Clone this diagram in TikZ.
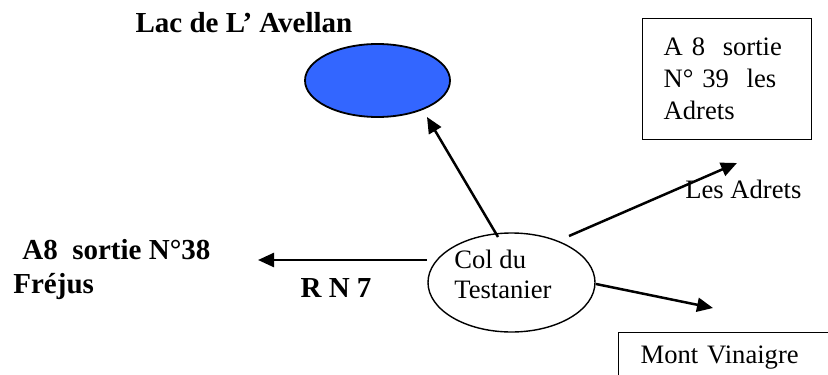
\documentclass[tikz,border=0pt]{standalone}
\usepackage{fontspec}
\setmainfont{Liberation Serif}
\usetikzlibrary{arrows.meta,shapes.geometric}
\definecolor{lakeblue}{RGB}{51,102,255}
\begin{document}
\begin{tikzpicture}[x=0.5pt,y=-0.5pt,
  reg/.style={font=\fontsize{13.3}{15.5}\selectfont, inner sep=0pt},
  bld/.style={font=\bfseries\fontsize{14.5}{17}\selectfont, inner sep=0pt},
  road/.style={line width=1.25pt, -{Triangle[length=8pt,width=7pt]}},
  box/.style={draw, line width=0.7pt, reg, align=left}]
\useasboundingbox (0,0) rectangle (828,374);

% labels
\node[bld, anchor=base] (lactitle) at (244,33) {Lac de L’ Avellan};
\node[bld, anchor=base west] (frej1) at (22,259) {A8\ \ sortie N°38};
\node[bld, anchor=base west] (frej2) at (13,293) {Fréjus};
\node[bld, anchor=base] (rn7) at (336,297) {R N 7};
\node[reg, anchor=base west] (adretslbl) at (685,198) {Les Adrets};

% lake
\node[ellipse, draw, line width=0.9pt, fill=lakeblue, minimum width=72.5pt, minimum height=36.5pt, inner sep=0pt] (lake) at (377.5,80.5) {};

% col du Testanier
\node[ellipse, draw, line width=0.7pt, minimum width=83.5pt, minimum height=49.5pt, inner sep=0pt] (col) at (511.5,282.5) {};
\node[reg, align=left, anchor=north west, font=\fontsize{13.3}{15}\selectfont] (coltext) at (454,250) {Col du\\Testanier};

% boxes
\node[box, anchor=north west, text width=63.5pt, inner xsep=10.5pt, inner ysep=0pt, minimum height=60.5pt, font=\fontsize{13.3}{16}\selectfont] (a39) at (642,18) {A 8\ \ sortie\\N° 39\ \ les\\Adrets};
\node[box, anchor=north west, text width=100pt, inner xsep=11pt, inner ysep=6.5pt, text depth=20pt] (mv) at (618,332) {Mont Vinaigre};

% connector ends
\coordinate (sLake) at (498,237);
\coordinate (tLake) at (427,117);
\coordinate (sRN) at (427,260);
\coordinate (tRN) at (258,260);
\coordinate (sAd) at (569,236);
\coordinate (tAd) at (737,163);
\coordinate (sMV) at (596,284);
\coordinate (tMV) at (713,308);

\draw[road] (sLake) -- (tLake);
\draw[road] (sRN) -- (tRN);
\draw[road] (sAd) -- (tAd);
\draw[road] (sMV) -- (tMV);
\end{tikzpicture}
\end{document}
